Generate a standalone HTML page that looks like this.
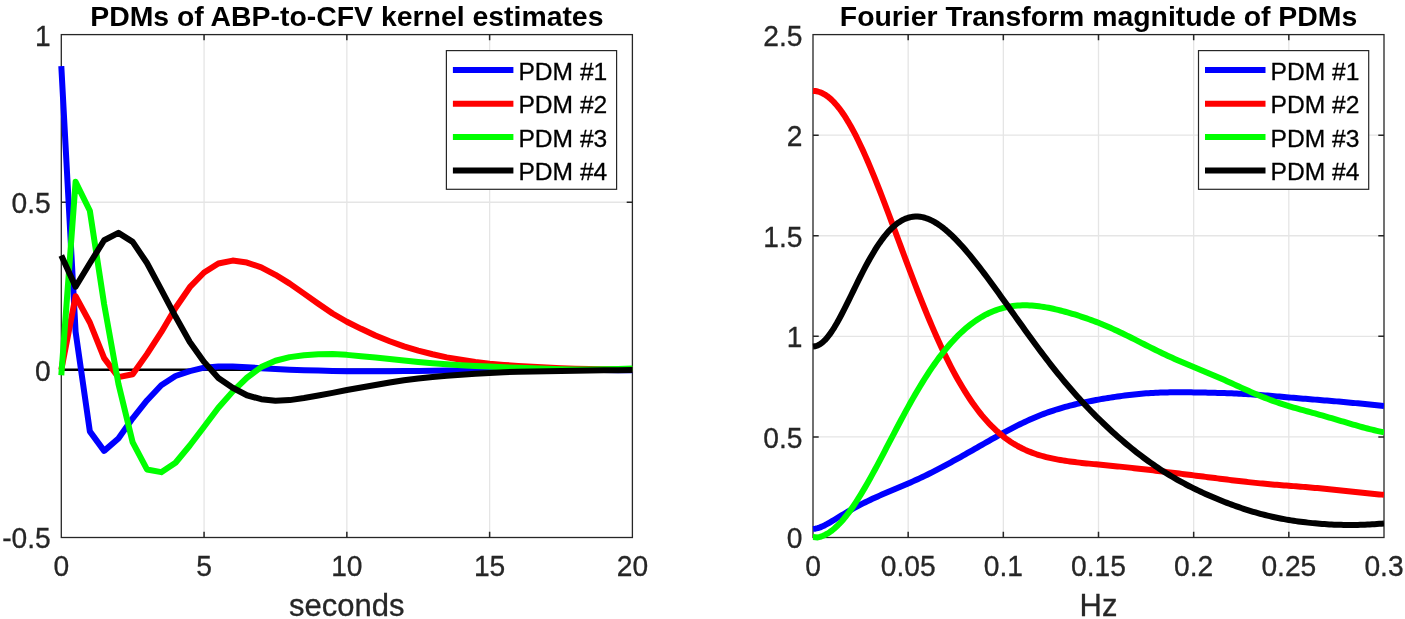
<!DOCTYPE html>
<html lang="en"><head><meta charset="utf-8"><title>PDMs</title>
<style>html,body{margin:0;padding:0;background:#fff}svg{display:block}text{font-family:"Liberation Sans",sans-serif;fill:#262626;stroke:#262626;stroke-width:0.3px}</style></head><body>
<svg width="1405" height="619" viewBox="0 0 1405 619">
<rect width="1405" height="619" fill="#ffffff"/>
<path d="M204.07 34.6 V537.5 M346.85 34.6 V537.5 M489.62 34.6 V537.5 M61.3 369.87 H632.4 M61.3 202.23 H632.4" stroke="#e5e5e5" stroke-width="1.3" fill="none"/>
<path d="M204.07 537.5 v-5.7 M204.07 34.6 v5.7 M346.85 537.5 v-5.7 M346.85 34.6 v5.7 M489.62 537.5 v-5.7 M489.62 34.6 v5.7 M61.3 369.87 h5.7 M632.4 369.87 h-5.7 M61.3 202.23 h5.7 M632.4 202.23 h-5.7" stroke="#262626" stroke-width="1.5" fill="none"/>
<rect x="61.3" y="34.6" width="571.10" height="502.90" fill="none" stroke="#262626" stroke-width="1.3"/>
<path d="M61.3 369.87 H632.4" stroke="#000" stroke-width="2.5" fill="none"/>
<polyline points="61.30,66.17 75.58,331.77 89.85,431.37 104.13,450.86 118.41,438.47 132.69,418.33 146.97,400.47 161.24,385.23 175.52,375.99 189.80,371.14 204.07,367.70 218.35,366.52 232.63,366.41 246.91,367.15 261.19,368.19 275.46,369.02 289.74,369.69 304.02,370.19 318.30,370.62 332.57,370.93 346.85,371.16 361.13,371.24 375.41,371.32 389.68,371.21 403.96,371.00 418.24,370.89 432.52,370.77 446.79,370.61 461.07,370.45 475.35,370.32 489.62,370.21 503.90,370.07 518.18,370.00 532.46,370.00 546.74,369.99 561.01,369.97 575.29,369.95 589.57,369.97 603.84,370.03 618.12,370.14 632.40,370.26" fill="none" stroke="#0000ff" stroke-width="6" stroke-linejoin="round" stroke-linecap="butt"/>
<polyline points="61.30,369.91 75.58,296.21 89.85,322.50 104.13,358.10 118.41,377.12 132.69,374.30 146.97,354.13 161.24,332.23 175.52,307.99 189.80,287.19 204.07,272.50 218.35,263.54 232.63,260.57 246.91,262.55 261.19,267.39 275.46,274.79 289.74,283.62 304.02,293.66 318.30,303.72 332.57,313.50 346.85,321.73 361.13,328.83 375.41,335.53 389.68,341.23 403.96,346.40 418.24,350.69 432.52,354.28 446.79,357.38 461.07,359.77 475.35,361.91 489.62,363.64 503.90,364.90 518.18,365.91 532.46,366.82 546.74,367.60 561.01,368.20 575.29,368.69 589.57,369.07 603.84,369.28 618.12,369.32 632.40,369.24" fill="none" stroke="#ff0000" stroke-width="6" stroke-linejoin="round" stroke-linecap="butt"/>
<polyline points="61.30,375.28 75.58,181.86 89.85,210.78 104.13,304.25 118.41,383.75 132.69,442.44 146.97,469.45 161.24,472.16 175.52,462.77 189.80,445.47 204.07,426.71 218.35,407.80 232.63,391.63 246.91,377.74 261.19,367.10 275.46,360.75 289.74,357.10 304.02,355.18 318.30,354.30 332.57,354.07 346.85,354.87 361.13,356.20 375.41,357.58 389.68,359.06 403.96,360.55 418.24,361.98 432.52,363.23 446.79,364.31 461.07,365.20 475.35,365.92 489.62,366.60 503.90,367.24 518.18,367.82 532.46,368.34 546.74,368.78 561.01,369.14 575.29,369.38 589.57,369.45 603.84,369.31 618.12,368.98 632.40,368.58" fill="none" stroke="#00ff00" stroke-width="6" stroke-linejoin="round" stroke-linecap="butt"/>
<polyline points="61.30,255.48 75.58,286.69 89.85,263.28 104.13,240.22 118.41,232.85 132.69,241.89 146.97,262.97 161.24,289.65 175.52,316.54 189.80,342.02 204.07,361.88 218.35,377.94 232.63,387.75 246.91,395.26 261.19,399.23 275.46,400.67 289.74,400.11 304.02,398.04 318.30,395.57 332.57,392.89 346.85,389.98 361.13,387.58 375.41,385.03 389.68,382.50 403.96,380.24 418.24,378.44 432.52,376.95 446.79,375.79 461.07,374.75 475.35,373.78 489.62,372.90 503.90,372.19 518.18,371.70 532.46,371.43 546.74,371.22 561.01,370.96 575.29,370.66 589.57,370.40 603.84,370.22 618.12,370.15 632.40,370.12" fill="none" stroke="#000000" stroke-width="6" stroke-linejoin="round" stroke-linecap="butt"/>
<path d="M908.17 34.6 V537.5 M1003.33 34.6 V537.5 M1098.50 34.6 V537.5 M1193.67 34.6 V537.5 M1288.83 34.6 V537.5 M813.0 436.92 H1384.0 M813.0 336.34 H1384.0 M813.0 235.76 H1384.0 M813.0 135.18 H1384.0" stroke="#e5e5e5" stroke-width="1.3" fill="none"/>
<path d="M908.17 537.5 v-5.7 M908.17 34.6 v5.7 M1003.33 537.5 v-5.7 M1003.33 34.6 v5.7 M1098.50 537.5 v-5.7 M1098.50 34.6 v5.7 M1193.67 537.5 v-5.7 M1193.67 34.6 v5.7 M1288.83 537.5 v-5.7 M1288.83 34.6 v5.7 M813.0 436.92 h5.7 M1384.0 436.92 h-5.7 M813.0 336.34 h5.7 M1384.0 336.34 h-5.7 M813.0 235.76 h5.7 M1384.0 235.76 h-5.7 M813.0 135.18 h5.7 M1384.0 135.18 h-5.7" stroke="#262626" stroke-width="1.5" fill="none"/>
<rect x="813.0" y="34.6" width="571.00" height="502.90" fill="none" stroke="#262626" stroke-width="1.3"/>
<clipPath id="cr"><rect x="809.0" y="34.6" width="575.00" height="506.90"/></clipPath>
<g clip-path="url(#cr)">
<polyline points="813.00,528.87 815.38,528.69 817.76,528.17 820.14,527.38 822.52,526.36 824.90,525.19 827.27,523.91 829.65,522.55 832.03,521.15 834.41,519.72 836.79,518.28 839.17,516.84 841.55,515.40 843.93,513.98 846.31,512.57 848.69,511.18 851.07,509.82 853.45,508.49 855.83,507.18 858.20,505.90 860.58,504.66 862.96,503.44 865.34,502.24 867.72,501.08 870.10,499.94 872.48,498.83 874.86,497.74 877.24,496.67 879.62,495.62 882.00,494.58 884.38,493.56 886.75,492.54 889.13,491.54 891.51,490.54 893.89,489.54 896.27,488.55 898.65,487.55 901.03,486.54 903.41,485.53 905.79,484.51 908.17,483.48 910.55,482.43 912.92,481.37 915.30,480.30 917.68,479.21 920.06,478.11 922.44,476.98 924.82,475.84 927.20,474.69 929.58,473.52 931.96,472.33 934.34,471.12 936.72,469.90 939.10,468.67 941.48,467.42 943.85,466.15 946.23,464.88 948.61,463.59 950.99,462.29 953.37,460.99 955.75,459.67 958.13,458.34 960.51,457.01 962.89,455.68 965.27,454.33 967.65,452.98 970.02,451.63 972.40,450.28 974.78,448.92 977.16,447.57 979.54,446.21 981.92,444.86 984.30,443.50 986.68,442.15 989.06,440.81 991.44,439.47 993.82,438.13 996.20,436.81 998.58,435.49 1000.95,434.18 1003.33,432.89 1005.71,431.61 1008.09,430.34 1010.47,429.09 1012.85,427.85 1015.23,426.64 1017.61,425.44 1019.99,424.27 1022.37,423.11 1024.75,421.99 1027.12,420.88 1029.50,419.80 1031.88,418.75 1034.26,417.72 1036.64,416.73 1039.02,415.76 1041.40,414.82 1043.78,413.90 1046.16,413.02 1048.54,412.17 1050.92,411.34 1053.30,410.54 1055.67,409.77 1058.05,409.03 1060.43,408.31 1062.81,407.62 1065.19,406.95 1067.57,406.31 1069.95,405.69 1072.33,405.09 1074.71,404.51 1077.09,403.95 1079.47,403.40 1081.85,402.88 1084.22,402.37 1086.60,401.87 1088.98,401.39 1091.36,400.93 1093.74,400.47 1096.12,400.03 1098.50,399.59 1100.88,399.17 1103.26,398.76 1105.64,398.36 1108.02,397.97 1110.40,397.59 1112.78,397.22 1115.15,396.86 1117.53,396.51 1119.91,396.17 1122.29,395.85 1124.67,395.54 1127.05,395.24 1129.43,394.95 1131.81,394.68 1134.19,394.42 1136.57,394.17 1138.95,393.95 1141.33,393.73 1143.70,393.53 1146.08,393.35 1148.46,393.18 1150.84,393.03 1153.22,392.90 1155.60,392.77 1157.98,392.67 1160.36,392.58 1162.74,392.50 1165.12,392.43 1167.50,392.38 1169.88,392.34 1172.25,392.31 1174.63,392.29 1177.01,392.28 1179.39,392.28 1181.77,392.28 1184.15,392.30 1186.53,392.31 1188.91,392.34 1191.29,392.37 1193.67,392.40 1196.05,392.44 1198.43,392.47 1200.80,392.52 1203.18,392.56 1205.56,392.61 1207.94,392.66 1210.32,392.71 1212.70,392.77 1215.08,392.83 1217.46,392.89 1219.84,392.96 1222.22,393.03 1224.60,393.10 1226.97,393.18 1229.35,393.27 1231.73,393.36 1234.11,393.46 1236.49,393.56 1238.87,393.67 1241.25,393.79 1243.63,393.92 1246.01,394.05 1248.39,394.19 1250.77,394.34 1253.15,394.50 1255.53,394.66 1257.90,394.83 1260.28,395.01 1262.66,395.19 1265.04,395.38 1267.42,395.57 1269.80,395.77 1272.18,395.97 1274.56,396.17 1276.94,396.38 1279.32,396.59 1281.70,396.80 1284.08,397.01 1286.45,397.22 1288.83,397.42 1291.21,397.63 1293.59,397.84 1295.97,398.04 1298.35,398.25 1300.73,398.45 1303.11,398.65 1305.49,398.85 1307.87,399.04 1310.25,399.24 1312.62,399.43 1315.00,399.62 1317.38,399.81 1319.76,400.01 1322.14,400.20 1324.52,400.39 1326.90,400.59 1329.28,400.78 1331.66,400.98 1334.04,401.18 1336.42,401.38 1338.80,401.59 1341.18,401.80 1343.55,402.01 1345.93,402.23 1348.31,402.45 1350.69,402.67 1353.07,402.90 1355.45,403.13 1357.83,403.36 1360.21,403.60 1362.59,403.83 1364.97,404.07 1367.35,404.31 1369.72,404.55 1372.10,404.79 1374.48,405.03 1376.86,405.26 1379.24,405.50 1381.62,405.74 1384.00,405.97" fill="none" stroke="#0000ff" stroke-width="6" stroke-linejoin="round" stroke-linecap="butt"/>
<polyline points="813.00,90.93 815.38,91.07 817.76,91.51 820.14,92.25 822.52,93.27 824.90,94.59 827.27,96.19 829.65,98.07 832.03,100.23 834.41,102.66 836.79,105.36 839.17,108.32 841.55,111.53 843.93,114.99 846.31,118.70 848.69,122.63 851.07,126.78 853.45,131.15 855.83,135.73 858.20,140.50 860.58,145.45 862.96,150.57 865.34,155.86 867.72,161.30 870.10,166.88 872.48,172.60 874.86,178.43 877.24,184.36 879.62,190.40 882.00,196.52 884.38,202.71 886.75,208.96 889.13,215.27 891.51,221.61 893.89,227.98 896.27,234.37 898.65,240.77 901.03,247.17 903.41,253.55 905.79,259.91 908.17,266.24 910.55,272.54 912.92,278.78 915.30,284.97 917.68,291.09 920.06,297.14 922.44,303.12 924.82,309.00 927.20,314.80 929.58,320.51 931.96,326.11 934.34,331.60 936.72,336.99 939.10,342.26 941.48,347.41 943.85,352.44 946.23,357.35 948.61,362.13 950.99,366.78 953.37,371.30 955.75,375.70 958.13,379.96 960.51,384.09 962.89,388.08 965.27,391.94 967.65,395.67 970.02,399.27 972.40,402.74 974.78,406.07 977.16,409.28 979.54,412.35 981.92,415.31 984.30,418.13 986.68,420.84 989.06,423.42 991.44,425.89 993.82,428.23 996.20,430.47 998.58,432.60 1000.95,434.62 1003.33,436.53 1005.71,438.34 1008.09,440.06 1010.47,441.68 1012.85,443.21 1015.23,444.65 1017.61,446.01 1019.99,447.29 1022.37,448.49 1024.75,449.62 1027.12,450.67 1029.50,451.67 1031.88,452.59 1034.26,453.46 1036.64,454.28 1039.02,455.04 1041.40,455.75 1043.78,456.41 1046.16,457.03 1048.54,457.61 1050.92,458.16 1053.30,458.67 1055.67,459.14 1058.05,459.59 1060.43,460.01 1062.81,460.40 1065.19,460.78 1067.57,461.13 1069.95,461.46 1072.33,461.77 1074.71,462.07 1077.09,462.36 1079.47,462.63 1081.85,462.90 1084.22,463.15 1086.60,463.40 1088.98,463.64 1091.36,463.87 1093.74,464.11 1096.12,464.33 1098.50,464.56 1100.88,464.79 1103.26,465.01 1105.64,465.24 1108.02,465.46 1110.40,465.69 1112.78,465.92 1115.15,466.16 1117.53,466.39 1119.91,466.63 1122.29,466.88 1124.67,467.12 1127.05,467.38 1129.43,467.63 1131.81,467.89 1134.19,468.15 1136.57,468.42 1138.95,468.69 1141.33,468.96 1143.70,469.24 1146.08,469.52 1148.46,469.80 1150.84,470.09 1153.22,470.38 1155.60,470.66 1157.98,470.95 1160.36,471.25 1162.74,471.54 1165.12,471.83 1167.50,472.12 1169.88,472.42 1172.25,472.71 1174.63,473.01 1177.01,473.30 1179.39,473.60 1181.77,473.89 1184.15,474.19 1186.53,474.48 1188.91,474.78 1191.29,475.08 1193.67,475.37 1196.05,475.67 1198.43,475.97 1200.80,476.27 1203.18,476.57 1205.56,476.87 1207.94,477.17 1210.32,477.47 1212.70,477.77 1215.08,478.07 1217.46,478.37 1219.84,478.67 1222.22,478.97 1224.60,479.27 1226.97,479.57 1229.35,479.87 1231.73,480.16 1234.11,480.45 1236.49,480.74 1238.87,481.02 1241.25,481.31 1243.63,481.58 1246.01,481.85 1248.39,482.12 1250.77,482.38 1253.15,482.63 1255.53,482.88 1257.90,483.12 1260.28,483.36 1262.66,483.59 1265.04,483.81 1267.42,484.03 1269.80,484.24 1272.18,484.44 1274.56,484.64 1276.94,484.84 1279.32,485.03 1281.70,485.21 1284.08,485.40 1286.45,485.58 1288.83,485.77 1291.21,485.95 1293.59,486.13 1295.97,486.31 1298.35,486.50 1300.73,486.68 1303.11,486.87 1305.49,487.07 1307.87,487.27 1310.25,487.47 1312.62,487.68 1315.00,487.89 1317.38,488.11 1319.76,488.33 1322.14,488.56 1324.52,488.79 1326.90,489.03 1329.28,489.27 1331.66,489.51 1334.04,489.76 1336.42,490.02 1338.80,490.27 1341.18,490.53 1343.55,490.78 1345.93,491.04 1348.31,491.30 1350.69,491.56 1353.07,491.81 1355.45,492.07 1357.83,492.32 1360.21,492.56 1362.59,492.81 1364.97,493.05 1367.35,493.28 1369.72,493.52 1372.10,493.74 1374.48,493.97 1376.86,494.19 1379.24,494.41 1381.62,494.62 1384.00,494.83" fill="none" stroke="#ff0000" stroke-width="6" stroke-linejoin="round" stroke-linecap="butt"/>
<polyline points="813.00,537.07 815.38,537.19 817.76,537.44 820.14,536.86 822.52,536.03 824.90,534.98 827.27,533.69 829.65,532.18 832.03,530.45 834.41,528.50 836.79,526.35 839.17,523.99 841.55,521.43 843.93,518.69 846.31,515.76 848.69,512.66 851.07,509.39 853.45,505.97 855.83,502.41 858.20,498.70 860.58,494.87 862.96,490.92 865.34,486.86 867.72,482.71 870.10,478.47 872.48,474.15 874.86,469.77 877.24,465.33 879.62,460.85 882.00,456.33 884.38,451.78 886.75,447.22 889.13,442.65 891.51,438.08 893.89,433.53 896.27,428.99 898.65,424.48 901.03,420.00 903.41,415.56 905.79,411.18 908.17,406.84 910.55,402.57 912.92,398.37 915.30,394.23 917.68,390.18 920.06,386.20 922.44,382.31 924.82,378.50 927.20,374.79 929.58,371.16 931.96,367.64 934.34,364.21 936.72,360.88 939.10,357.64 941.48,354.51 943.85,351.49 946.23,348.56 948.61,345.74 950.99,343.02 953.37,340.40 955.75,337.88 958.13,335.47 960.51,333.16 962.89,330.95 965.27,328.84 967.65,326.82 970.02,324.91 972.40,323.09 974.78,321.38 977.16,319.75 979.54,318.22 981.92,316.79 984.30,315.45 986.68,314.19 989.06,313.03 991.44,311.96 993.82,310.97 996.20,310.07 998.58,309.26 1000.95,308.52 1003.33,307.87 1005.71,307.29 1008.09,306.80 1010.47,306.37 1012.85,306.02 1015.23,305.74 1017.61,305.53 1019.99,305.39 1022.37,305.30 1024.75,305.28 1027.12,305.32 1029.50,305.41 1031.88,305.55 1034.26,305.75 1036.64,305.99 1039.02,306.28 1041.40,306.61 1043.78,306.97 1046.16,307.38 1048.54,307.82 1050.92,308.30 1053.30,308.80 1055.67,309.34 1058.05,309.90 1060.43,310.48 1062.81,311.10 1065.19,311.73 1067.57,312.39 1069.95,313.07 1072.33,313.77 1074.71,314.49 1077.09,315.23 1079.47,315.99 1081.85,316.78 1084.22,317.58 1086.60,318.40 1088.98,319.24 1091.36,320.11 1093.74,321.00 1096.12,321.90 1098.50,322.83 1100.88,323.79 1103.26,324.76 1105.64,325.76 1108.02,326.78 1110.40,327.82 1112.78,328.88 1115.15,329.96 1117.53,331.06 1119.91,332.18 1122.29,333.31 1124.67,334.46 1127.05,335.63 1129.43,336.81 1131.81,338.00 1134.19,339.19 1136.57,340.39 1138.95,341.60 1141.33,342.81 1143.70,344.02 1146.08,345.22 1148.46,346.42 1150.84,347.62 1153.22,348.80 1155.60,349.98 1157.98,351.14 1160.36,352.30 1162.74,353.44 1165.12,354.56 1167.50,355.67 1169.88,356.76 1172.25,357.84 1174.63,358.91 1177.01,359.96 1179.39,360.99 1181.77,362.02 1184.15,363.03 1186.53,364.03 1188.91,365.03 1191.29,366.02 1193.67,367.01 1196.05,367.99 1198.43,368.97 1200.80,369.95 1203.18,370.94 1205.56,371.93 1207.94,372.92 1210.32,373.92 1212.70,374.93 1215.08,375.95 1217.46,376.98 1219.84,378.01 1222.22,379.06 1224.60,380.11 1226.97,381.17 1229.35,382.24 1231.73,383.31 1234.11,384.39 1236.49,385.47 1238.87,386.55 1241.25,387.63 1243.63,388.70 1246.01,389.77 1248.39,390.84 1250.77,391.89 1253.15,392.93 1255.53,393.96 1257.90,394.96 1260.28,395.96 1262.66,396.93 1265.04,397.88 1267.42,398.80 1269.80,399.71 1272.18,400.59 1274.56,401.45 1276.94,402.28 1279.32,403.09 1281.70,403.88 1284.08,404.64 1286.45,405.39 1288.83,406.12 1291.21,406.83 1293.59,407.53 1295.97,408.21 1298.35,408.88 1300.73,409.55 1303.11,410.21 1305.49,410.86 1307.87,411.51 1310.25,412.16 1312.62,412.82 1315.00,413.47 1317.38,414.13 1319.76,414.80 1322.14,415.47 1324.52,416.14 1326.90,416.83 1329.28,417.51 1331.66,418.21 1334.04,418.91 1336.42,419.61 1338.80,420.32 1341.18,421.03 1343.55,421.74 1345.93,422.45 1348.31,423.16 1350.69,423.86 1353.07,424.55 1355.45,425.24 1357.83,425.92 1360.21,426.58 1362.59,427.24 1364.97,427.88 1367.35,428.50 1369.72,429.11 1372.10,429.71 1374.48,430.28 1376.86,430.85 1379.24,431.39 1381.62,431.93 1384.00,432.44" fill="none" stroke="#00ff00" stroke-width="6" stroke-linejoin="round" stroke-linecap="butt"/>
<polyline points="813.00,346.52 815.38,346.26 817.76,345.48 820.14,344.19 822.52,342.42 824.90,340.18 827.27,337.51 829.65,334.44 832.03,331.01 834.41,327.27 836.79,323.24 839.17,318.98 841.55,314.52 843.93,309.90 846.31,305.17 848.69,300.35 851.07,295.49 853.45,290.60 855.83,285.74 858.20,280.91 860.58,276.16 862.96,271.49 865.34,266.94 867.72,262.51 870.10,258.24 872.48,254.13 874.86,250.19 877.24,246.44 879.62,242.90 882.00,239.56 884.38,236.43 886.75,233.53 889.13,230.85 891.51,228.40 893.89,226.19 896.27,224.20 898.65,222.45 901.03,220.93 903.41,219.63 905.79,218.57 908.17,217.73 910.55,217.11 912.92,216.71 915.30,216.52 917.68,216.53 920.06,216.75 922.44,217.16 924.82,217.76 927.20,218.53 929.58,219.49 931.96,220.60 934.34,221.88 936.72,223.31 939.10,224.89 941.48,226.60 943.85,228.45 946.23,230.41 948.61,232.50 950.99,234.69 953.37,236.99 955.75,239.38 958.13,241.87 960.51,244.44 962.89,247.09 965.27,249.81 967.65,252.60 970.02,255.45 972.40,258.37 974.78,261.33 977.16,264.35 979.54,267.41 981.92,270.51 984.30,273.65 986.68,276.82 989.06,280.02 991.44,283.25 993.82,286.51 996.20,289.78 998.58,293.07 1000.95,296.38 1003.33,299.70 1005.71,303.03 1008.09,306.36 1010.47,309.70 1012.85,313.04 1015.23,316.38 1017.61,319.72 1019.99,323.05 1022.37,326.37 1024.75,329.68 1027.12,332.98 1029.50,336.26 1031.88,339.53 1034.26,342.78 1036.64,346.00 1039.02,349.20 1041.40,352.38 1043.78,355.53 1046.16,358.65 1048.54,361.74 1050.92,364.80 1053.30,367.83 1055.67,370.83 1058.05,373.79 1060.43,376.71 1062.81,379.61 1065.19,382.46 1067.57,385.28 1069.95,388.06 1072.33,390.81 1074.71,393.51 1077.09,396.19 1079.47,398.82 1081.85,401.42 1084.22,403.98 1086.60,406.51 1088.98,409.01 1091.36,411.47 1093.74,413.90 1096.12,416.29 1098.50,418.65 1100.88,420.98 1103.26,423.28 1105.64,425.54 1108.02,427.78 1110.40,429.99 1112.78,432.16 1115.15,434.31 1117.53,436.42 1119.91,438.51 1122.29,440.57 1124.67,442.60 1127.05,444.59 1129.43,446.56 1131.81,448.50 1134.19,450.41 1136.57,452.29 1138.95,454.14 1141.33,455.96 1143.70,457.74 1146.08,459.50 1148.46,461.23 1150.84,462.92 1153.22,464.58 1155.60,466.22 1157.98,467.82 1160.36,469.39 1162.74,470.93 1165.12,472.44 1167.50,473.92 1169.88,475.37 1172.25,476.79 1174.63,478.18 1177.01,479.54 1179.39,480.88 1181.77,482.19 1184.15,483.47 1186.53,484.73 1188.91,485.96 1191.29,487.17 1193.67,488.36 1196.05,489.52 1198.43,490.66 1200.80,491.78 1203.18,492.89 1205.56,493.97 1207.94,495.03 1210.32,496.07 1212.70,497.10 1215.08,498.10 1217.46,499.09 1219.84,500.06 1222.22,501.02 1224.60,501.95 1226.97,502.87 1229.35,503.77 1231.73,504.66 1234.11,505.52 1236.49,506.37 1238.87,507.20 1241.25,508.01 1243.63,508.80 1246.01,509.57 1248.39,510.33 1250.77,511.06 1253.15,511.77 1255.53,512.46 1257.90,513.13 1260.28,513.79 1262.66,514.42 1265.04,515.02 1267.42,515.61 1269.80,516.18 1272.18,516.73 1274.56,517.25 1276.94,517.76 1279.32,518.25 1281.70,518.71 1284.08,519.16 1286.45,519.58 1288.83,519.99 1291.21,520.38 1293.59,520.75 1295.97,521.11 1298.35,521.44 1300.73,521.76 1303.11,522.07 1305.49,522.35 1307.87,522.63 1310.25,522.88 1312.62,523.12 1315.00,523.35 1317.38,523.56 1319.76,523.76 1322.14,523.94 1324.52,524.11 1326.90,524.26 1329.28,524.40 1331.66,524.52 1334.04,524.63 1336.42,524.72 1338.80,524.80 1341.18,524.86 1343.55,524.91 1345.93,524.94 1348.31,524.96 1350.69,524.96 1353.07,524.95 1355.45,524.92 1357.83,524.88 1360.21,524.82 1362.59,524.74 1364.97,524.66 1367.35,524.55 1369.72,524.44 1372.10,524.31 1374.48,524.17 1376.86,524.02 1379.24,523.86 1381.62,523.69 1384.00,523.51" fill="none" stroke="#000000" stroke-width="6" stroke-linejoin="round" stroke-linecap="butt"/>
</g>
<text x="346.85" y="25.80" font-size="28.4" text-anchor="middle" font-weight="bold" style="fill:#000;stroke:#000;stroke-width:0;">PDMs of ABP-to-CFV kernel estimates</text>
<text x="1098.50" y="25.80" font-size="28.4" text-anchor="middle" font-weight="bold" style="fill:#000;stroke:#000;stroke-width:0;">Fourier Transform magnitude of PDMs</text>
<text transform="translate(61.30,576.30) scale(1,1.05)" font-size="28.2" text-anchor="middle" font-weight="normal">0</text>
<text transform="translate(204.07,576.30) scale(1,1.05)" font-size="28.2" text-anchor="middle" font-weight="normal">5</text>
<text transform="translate(346.85,576.30) scale(1,1.05)" font-size="28.2" text-anchor="middle" font-weight="normal">10</text>
<text transform="translate(489.62,576.30) scale(1,1.05)" font-size="28.2" text-anchor="middle" font-weight="normal">15</text>
<text transform="translate(632.40,576.30) scale(1,1.05)" font-size="28.2" text-anchor="middle" font-weight="normal">20</text>
<text transform="translate(50.80,548.40) scale(1,1.05)" font-size="28.2" text-anchor="end" font-weight="normal">-0.5</text>
<text transform="translate(50.80,380.77) scale(1,1.05)" font-size="28.2" text-anchor="end" font-weight="normal">0</text>
<text transform="translate(50.80,213.13) scale(1,1.05)" font-size="28.2" text-anchor="end" font-weight="normal">0.5</text>
<text transform="translate(50.80,45.50) scale(1,1.05)" font-size="28.2" text-anchor="end" font-weight="normal">1</text>
<text transform="translate(813.00,576.30) scale(1,1.05)" font-size="28.2" text-anchor="middle" font-weight="normal">0</text>
<text transform="translate(908.17,576.30) scale(1,1.05)" font-size="28.2" text-anchor="middle" font-weight="normal">0.05</text>
<text transform="translate(1003.33,576.30) scale(1,1.05)" font-size="28.2" text-anchor="middle" font-weight="normal">0.1</text>
<text transform="translate(1098.50,576.30) scale(1,1.05)" font-size="28.2" text-anchor="middle" font-weight="normal">0.15</text>
<text transform="translate(1193.67,576.30) scale(1,1.05)" font-size="28.2" text-anchor="middle" font-weight="normal">0.2</text>
<text transform="translate(1288.83,576.30) scale(1,1.05)" font-size="28.2" text-anchor="middle" font-weight="normal">0.25</text>
<text transform="translate(1384.00,576.30) scale(1,1.05)" font-size="28.2" text-anchor="middle" font-weight="normal">0.3</text>
<text transform="translate(802.50,548.40) scale(1,1.05)" font-size="28.2" text-anchor="end" font-weight="normal">0</text>
<text transform="translate(802.50,447.82) scale(1,1.05)" font-size="28.2" text-anchor="end" font-weight="normal">0.5</text>
<text transform="translate(802.50,347.24) scale(1,1.05)" font-size="28.2" text-anchor="end" font-weight="normal">1</text>
<text transform="translate(802.50,246.66) scale(1,1.05)" font-size="28.2" text-anchor="end" font-weight="normal">1.5</text>
<text transform="translate(802.50,146.08) scale(1,1.05)" font-size="28.2" text-anchor="end" font-weight="normal">2</text>
<text transform="translate(802.50,45.50) scale(1,1.05)" font-size="28.2" text-anchor="end" font-weight="normal">2.5</text>
<text x="346.85" y="615.50" font-size="31" text-anchor="middle" font-weight="normal">seconds</text>
<text x="1098.50" y="615.50" font-size="31" text-anchor="middle" font-weight="normal">Hz</text>
<rect x="446.4" y="50.6" width="170.2" height="138.7" fill="#fff" stroke="#262626" stroke-width="1.2"/>
<path d="M452.90 70.05 h60.5" stroke="#0000ff" stroke-width="6" fill="none"/>
<text x="518.40" y="79.55" font-size="24.6" text-anchor="start" font-weight="normal" style="fill:#000;stroke:#000;">PDM #1</text>
<path d="M452.90 103.75 h60.5" stroke="#ff0000" stroke-width="6" fill="none"/>
<text x="518.40" y="113.25" font-size="24.6" text-anchor="start" font-weight="normal" style="fill:#000;stroke:#000;">PDM #2</text>
<path d="M452.90 137.1 h60.5" stroke="#00ff00" stroke-width="6" fill="none"/>
<text x="518.40" y="146.60" font-size="24.6" text-anchor="start" font-weight="normal" style="fill:#000;stroke:#000;">PDM #3</text>
<path d="M452.90 170.5 h60.5" stroke="#000000" stroke-width="6" fill="none"/>
<text x="518.40" y="180.00" font-size="24.6" text-anchor="start" font-weight="normal" style="fill:#000;stroke:#000;">PDM #4</text>
<rect x="1198.5" y="50.6" width="170.2" height="138.7" fill="#fff" stroke="#262626" stroke-width="1.2"/>
<path d="M1205.00 70.05 h60.5" stroke="#0000ff" stroke-width="6" fill="none"/>
<text x="1270.50" y="79.55" font-size="24.6" text-anchor="start" font-weight="normal" style="fill:#000;stroke:#000;">PDM #1</text>
<path d="M1205.00 103.75 h60.5" stroke="#ff0000" stroke-width="6" fill="none"/>
<text x="1270.50" y="113.25" font-size="24.6" text-anchor="start" font-weight="normal" style="fill:#000;stroke:#000;">PDM #2</text>
<path d="M1205.00 137.1 h60.5" stroke="#00ff00" stroke-width="6" fill="none"/>
<text x="1270.50" y="146.60" font-size="24.6" text-anchor="start" font-weight="normal" style="fill:#000;stroke:#000;">PDM #3</text>
<path d="M1205.00 170.5 h60.5" stroke="#000000" stroke-width="6" fill="none"/>
<text x="1270.50" y="180.00" font-size="24.6" text-anchor="start" font-weight="normal" style="fill:#000;stroke:#000;">PDM #4</text>
</svg></body></html>
